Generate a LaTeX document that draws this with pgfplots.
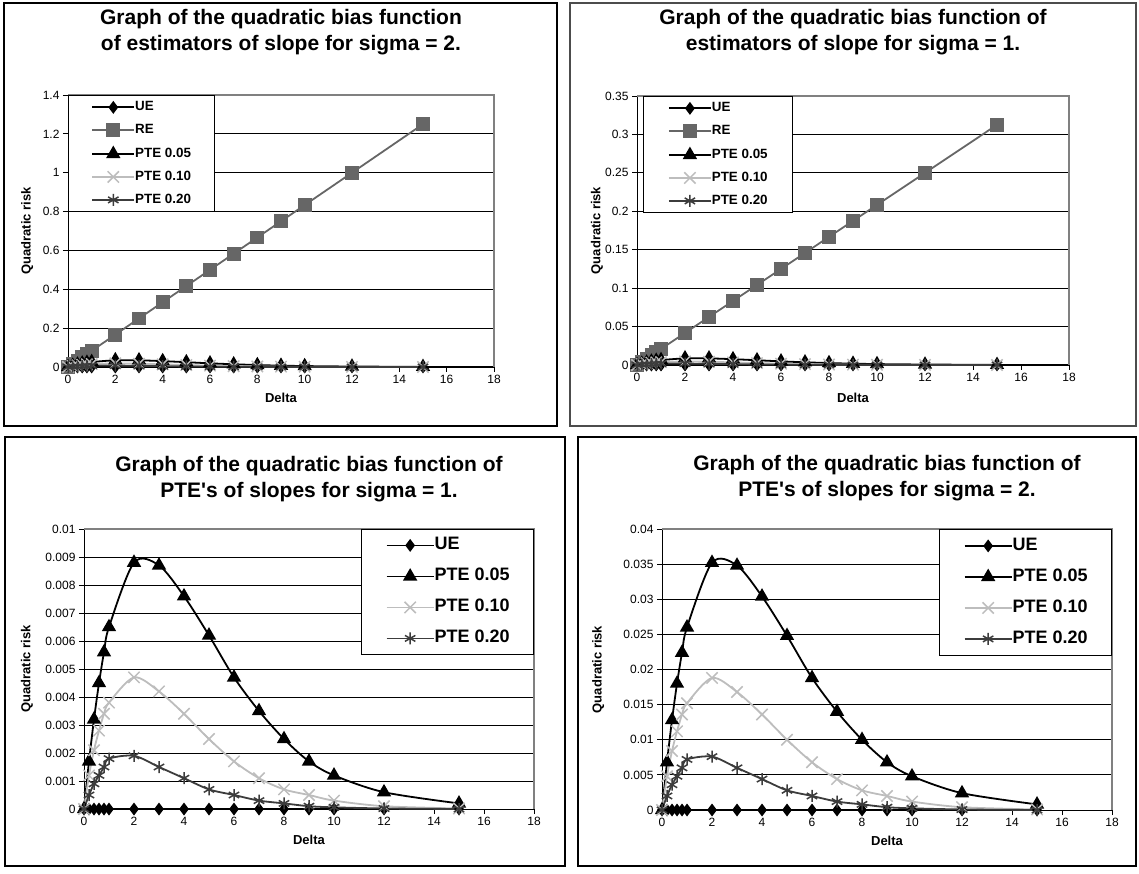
\documentclass[border=0pt]{standalone}
\usepackage{fontspec}
\setmainfont{Liberation Sans}[Ligatures=TeXOff]
\usepackage{pgfplots}
\usepackage{pgfplotstable}
\pgfplotsset{compat=1.18}
\definecolor{reGray}{HTML}{666666}
\definecolor{lGray}{HTML}{BDBDBD}
\definecolor{dGray}{HTML}{3C3C3C}
\definecolor{frameGray}{HTML}{808080}

% sigma = 1
\pgfplotstableread{
x    ue re        p05     p10     p20
0    0  0         0       0       0
0.2  0  0.004167  0.0017  0.0012  0.0005
0.4  0  0.008333  0.0032  0.0021  0.0009
0.6  0  0.0125    0.0045  0.0028  0.0012
0.8  0  0.016667  0.0056  0.0034  0.0015
1    0  0.020833  0.0065  0.0038  0.0018
2    0  0.041667  0.0088  0.0047  0.0019
3    0  0.0625    0.0087  0.0042  0.0015
4    0  0.083333  0.0076  0.0034  0.0011
5    0  0.104167  0.0062  0.0025  0.0007
6    0  0.125     0.0047  0.0017  0.0005
7    0  0.145833  0.0035  0.0011  0.0003
8    0  0.166667  0.0025  0.0007  0.0002
9    0  0.1875    0.0017  0.0005  0.0001
10   0  0.208333  0.0012  0.0003  0.00006
12   0  0.25      0.0006  0.0001  0.00002
15   0  0.3125    0.0002  0.00002 0
}\sone

% sigma = 2
\pgfplotstableread{
x    ue re        p05     p10     p20
0    0  0         0       0       0
0.2  0  0.016667  0.0068  0.0048  0.0020
0.4  0  0.033333  0.0128  0.0084  0.0036
0.6  0  0.05      0.0180  0.0112  0.0048
0.8  0  0.066667  0.0224  0.0136  0.0060
1    0  0.083333  0.0260  0.0152  0.0072
2    0  0.166667  0.0352  0.0188  0.0076
3    0  0.25      0.0348  0.0168  0.0060
4    0  0.333333  0.0304  0.0136  0.0044
5    0  0.416667  0.0248  0.0100  0.0028
6    0  0.5       0.0188  0.0068  0.0020
7    0  0.583333  0.0140  0.0044  0.0012
8    0  0.666667  0.0100  0.0028  0.0008
9    0  0.75      0.0068  0.0020  0.0004
10   0  0.833333  0.0048  0.0012  0.00024
12   0  1         0.0024  0.0004  0.00008
15   0  1.25      0.0008  0.00008 0
}\stwo

\pgfplotsset{
  panel/.style={
    scale only axis, anchor=south west,
    axis lines=left, axis line style={-, black, line width=1pt},
    enlargelimits=false, clip=false,
    scaled y ticks=false, scaled x ticks=false,
    xmin=0, xmax=18, xtick={0,2,4,6,8,10,12,14,16,18},
    xticklabels={0,2,4,6,8,10,12,14,16,18},
    tick align=outside, major tick length=5pt,
    tick style={black, line width=0.8pt},
    ymajorgrids, major grid style={black, line width=0.8pt},
    ticklabel style={font=\fontsize{12}{12}\selectfont},
    /pgf/number format/assume math mode=true,
    title style={font=\fontsize{21}{26}\selectfont\bfseries, align=center, anchor=center},
    label style={font=\fontsize{13}{13}\selectfont\bfseries},
    xlabel={Delta}, ylabel={Quadratic risk},
  },
  ue/.style={black, line width=1.8pt, mark=diamond*, mark size=5pt, mark options={solid, fill=black}},
  re/.style={reGray, line width=1.8pt, mark=square*, mark size=6pt, mark options={solid, fill=reGray}},
  pa/.style={black, line width=1.8pt, mark=triangle*, mark size=6.5pt, mark options={solid, fill=black}},
  pb/.style={lGray, line width=1.8pt, mark=x, mark size=8pt, mark options={solid, line width=1.5pt}},
  pc/.style={dGray, line width=1.8pt, mark=asterisk, mark size=6pt, mark options={solid, line width=1.5pt}},
  toplegend/.style={
    legend style={draw=black, line width=0.8pt, fill=white,
      font=\fontsize{13.4}{13.4}\selectfont\bfseries,
      inner xsep=#1, inner ysep=6pt, row sep=11pt,
      nodes={inner sep=0pt, text height=9.6pt, text depth=2.4pt},
      cells={anchor=west},
      /tikz/every even column/.append style={column sep=2pt}},
    legend image code/.code={\draw[##1, mark repeat=2, mark phase=2] plot coordinates {(0pt,0pt) (21pt,0pt) (42pt,0pt)};},
  },
  botlegend/.style={
    legend style={at={(1,1)}, anchor=north east, draw=black, line width=0.8pt, fill=white,
      font=\fontsize{18}{18}\selectfont\bfseries,
      inner xsep=24pt, inner ysep=#1, row sep=14pt,
      nodes={inner sep=0pt, text height=13pt, text depth=4pt},
      cells={anchor=west},
      /tikz/every even column/.append style={column sep=4pt}},
    legend image code/.code={\draw[##1, mark repeat=2, mark phase=2] plot coordinates {(0pt,0pt) (23.5pt,0pt) (47pt,0pt)};},
  },
}

\begin{document}
\begin{tikzpicture}
\useasboundingbox (0,0) rectangle (1139pt,873pt);
% panel frames
\draw[black, line width=1.3pt] (4pt,870pt) rectangle (557pt,447pt);
\draw[black!70, line width=1.3pt] (570pt,870pt) rectangle (1136pt,447pt);
\draw[black, line width=1.5pt] (5pt,436pt) rectangle (565pt,7pt);
\draw[black, line width=1.5pt] (578pt,436pt) rectangle (1136pt,7pt);

% ---------------- top left: sigma = 2
\begin{axis}[panel, at={(68pt,506pt)}, width=426pt, height=272pt,
  ymin=0, ymax=1.4, ytick={0,0.2,0.4,0.6,0.8,1,1.2,1.4},
  yticklabels={0,0.2,0.4,0.6,0.8,1,1.2,1.4},
  title={Graph of the quadratic bias function\\of estimators of slope for sigma = 2.},
  title style={at={(axis description cs:0.5,1.208)}},
  xlabel style={at={(axis description cs:0.5,-0.114)}, anchor=center},
  ylabel style={at={(axis description cs:-0.096,0.5)}, anchor=center},
  toplegend=23pt, legend style={at={(0,1)}, anchor=north west},
]
\addplot[ue] table[x=x, y=ue] {\stwo};
\addplot[re] table[x=x, y=re] {\stwo};
\addplot[pa] table[x=x, y=p05] {\stwo};
\addplot[pb] table[x=x, y=p10] {\stwo};
\addplot[pc] table[x=x, y=p20] {\stwo};
\legend{UE, RE, PTE 0.05, PTE 0.10, PTE 0.20}
\draw[frameGray, line width=1.2pt] (rel axis cs:0,1) -- (rel axis cs:1,1) -- (rel axis cs:1,0);
\end{axis}

% ---------------- top right: sigma = 1
\begin{axis}[panel, at={(637pt,508pt)}, width=432pt, height=269pt,
  ymin=0, ymax=0.35, ytick={0,0.05,0.1,0.15,0.2,0.25,0.3,0.35},
  yticklabels={0,0.05,0.1,0.15,0.2,0.25,0.3,0.35},
  title={Graph of the quadratic bias function of\\estimators of slope for sigma = 1.},
  title style={at={(axis description cs:0.5,1.214)}},
  xlabel style={at={(axis description cs:0.5,-0.123)}, anchor=center},
  ylabel style={at={(axis description cs:-0.093,0.5)}, anchor=center},
  toplegend=25pt, legend style={at={(0.013,1)}, anchor=north west},
]
\addplot[ue] table[x=x, y=ue] {\sone};
\addplot[re] table[x=x, y=re] {\sone};
\addplot[pa] table[x=x, y=p05] {\sone};
\addplot[pb] table[x=x, y=p10] {\sone};
\addplot[pc] table[x=x, y=p20] {\sone};
\legend{UE, RE, PTE 0.05, PTE 0.10, PTE 0.20}
\draw[frameGray, line width=1.2pt] (rel axis cs:0,1) -- (rel axis cs:1,1) -- (rel axis cs:1,0);
\end{axis}

% ---------------- bottom left: PTE sigma = 1
\begin{axis}[panel, at={(84pt,64pt)}, width=450pt, height=280pt,
  ymin=0, ymax=0.01,
  ytick={0,0.001,0.002,0.003,0.004,0.005,0.006,0.007,0.008,0.009,0.01},
  yticklabels={0,0.001,0.002,0.003,0.004,0.005,0.006,0.007,0.008,0.009,0.01},
  title={Graph of the quadratic bias function of\\PTE's of slopes for sigma = 1.},
  title style={at={(axis description cs:0.5,1.157)}},
  xlabel style={at={(axis description cs:0.5,-0.111)}, anchor=center},
  ylabel style={at={(axis description cs:-0.127,0.5)}, anchor=center},
  botlegend=7.5pt,
]
\addplot[ue, smooth] table[x=x, y=ue] {\sone};
\addplot[pa, smooth] table[x=x, y=p05] {\sone};
\addplot[pb, smooth] table[x=x, y=p10] {\sone};
\addplot[pc, smooth] table[x=x, y=p20] {\sone};
\legend{UE, PTE 0.05, PTE 0.10, PTE 0.20}
\draw[frameGray, line width=1.2pt] (rel axis cs:0,1) -- (rel axis cs:1,1) -- (rel axis cs:1,0);
\end{axis}

% ---------------- bottom right: PTE sigma = 2
\begin{axis}[panel, at={(662pt,63pt)}, width=450pt, height=281pt,
  ymin=0, ymax=0.04,
  ytick={0,0.005,0.01,0.015,0.02,0.025,0.03,0.035,0.04},
  yticklabels={0,0.005,0.01,0.015,0.02,0.025,0.03,0.035,0.04},
  title={Graph of the quadratic bias function of\\PTE's of slopes for sigma = 2.},
  title style={at={(axis description cs:0.5,1.158)}},
  xlabel style={at={(axis description cs:0.5,-0.111)}, anchor=center},
  ylabel style={at={(axis description cs:-0.142,0.5)}, anchor=center},
  botlegend=8pt,
]
\addplot[ue, smooth] table[x=x, y=ue] {\stwo};
\addplot[pa, smooth] table[x=x, y=p05] {\stwo};
\addplot[pb, smooth] table[x=x, y=p10] {\stwo};
\addplot[pc, smooth] table[x=x, y=p20] {\stwo};
\legend{UE, PTE 0.05, PTE 0.10, PTE 0.20}
\draw[frameGray, line width=1.2pt] (rel axis cs:0,1) -- (rel axis cs:1,1) -- (rel axis cs:1,0);
\end{axis}
\end{tikzpicture}
\end{document}
